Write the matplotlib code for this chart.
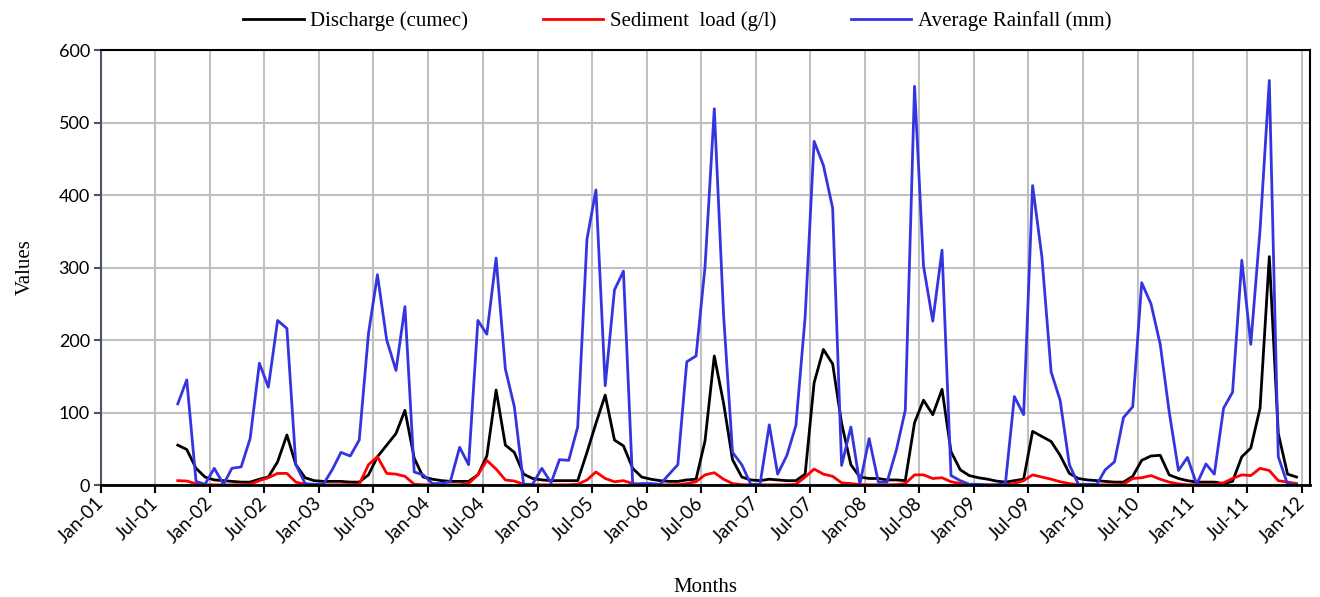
import numpy as np
import pandas as pd
import matplotlib
matplotlib.use('Agg')
import matplotlib.pyplot as plt
import matplotlib.dates as mdates

# monthly series, Sep 2001 .. Dec 2011
start = '2001-09-01'
n_months = 124

discharge = [55, 49, 23, 11,
             7, 6, 5, 4, 4, 8, 11, 32, 69, 28, 10, 6,
             5, 5, 5, 4, 4, 14, 39, 55, 71, 103, 37, 11,
             8, 6, 5, 5, 5, 14, 40, 131, 55, 45, 15, 9,
             7, 6, 6, 6, 6, 45, 85, 124, 62, 54, 23, 11,
             8, 6, 5, 5, 7, 8, 61, 178, 113, 35, 11, 7,
             6, 8, 7, 6, 6, 15, 141, 187, 167, 85, 28, 11,
             9, 9, 7, 7, 6, 86, 117, 97, 132, 46, 21, 13,
             10, 8, 5.5, 4, 6, 8, 74, 67, 60, 41, 16, 9,
             7, 6, 5, 4, 4, 12, 34, 40, 41, 14, 9, 6,
             4, 4, 4, 2, 5, 39, 51, 106, 315, 71, 15, 11]

sediment = [6, 5.5, 1.5, 0.3,
            0.2, 0.2, 0.2, 0.3, 1, 6, 10, 16, 16, 4, 1, 0.3,
            0.2, 0.2, 0.3, 0.5, 1, 28, 39, 16, 15, 12, 1, 0.3,
            0.2, 0.2, 0.2, 0.3, 2, 14, 34, 22, 7, 5.5, 1, 0.3,
            0.2, 0.2, 0.2, 0.3, 1, 7, 18, 9, 4.5, 6, 2, 0.3,
            0.2, 0.2, 0.3, 0.5, 2, 4.5, 14, 17, 8, 2, 0.5, 0.2,
            0.2, 0.2, 0.2, 0.3, 1, 11, 22, 15, 12, 3, 2, 0.5,
            0.3, 0.3, 0.3, 0.5, 2, 14, 14, 9, 10, 4.5, 2, 0.3,
            0.2, 0.2, 0.2, 0.3, 2, 6, 14, 11, 8, 4.5, 2, 0.3,
            0.2, 0.2, 0.2, 0.3, 1, 9, 10, 13, 8, 4, 1.5, 0.3,
            0.2, 0.2, 0.3, 3, 9, 14, 13, 23, 20, 6, 4, 2]

rainfall = [112, 145, 5, 1,
            23, 1, 23, 25, 64, 168, 135, 227, 216, 28, 2, 1,
            1, 22, 45, 40, 62, 209, 290, 200, 158, 246, 18, 14,
            2, 2, 5, 52, 28, 227, 208, 313, 160, 108, 1, 1,
            23, 3, 35, 34, 80, 339, 407, 137, 269, 295, 1, 2,
            2, 1, 14, 28, 170, 178, 301, 519, 235, 45, 28, 1,
            1, 83, 15, 41, 82, 232, 474, 441, 382, 27, 80, 1,
            64, 4, 4, 48, 103, 550, 302, 226, 324, 13, 6, 1,
            1, 0, 0, 2, 122, 97, 413, 315, 156, 117, 28, 1,
            1, 1, 21, 32, 93, 108, 279, 250, 194, 101, 20, 38,
            1, 29, 15, 106, 128, 310, 194, 352, 558, 39, 1, 1]

dates = pd.date_range(start, periods=n_months, freq='MS') + pd.Timedelta(days=14)

serif = ['Liberation Serif', 'DejaVu Serif']
sans = ['Lato', 'DejaVu Sans']

fig = plt.figure(figsize=(13.2, 5.97), dpi=100)
ax = fig.add_axes([0.0765, 0.1876, 0.9159, 0.7286])

ax.plot(dates, discharge, color='black', lw=2, label='Discharge (cumec)')
ax.plot(dates, sediment, color='#ff0000', lw=2, label='Sediment  load (g/l)')
ax.plot(dates, rainfall, color='#3535e0', lw=2, label='Average Rainfall (mm)')

ax.set_xlim(pd.Timestamp('2001-01-01'), pd.Timestamp('2012-01-29'))
ax.set_ylim(0, 600)
ax.set_yticks(range(0, 601, 100))

ax.xaxis.set_major_locator(mdates.MonthLocator(bymonth=[1, 7]))
ax.xaxis.set_major_formatter(mdates.DateFormatter('%b-%y'))

ax.grid(True, color='#c0c0c0', lw=1.5)
ax.set_axisbelow(True)

for s in ['top', 'right', 'bottom']:
    ax.spines[s].set_color('black')
    ax.spines[s].set_linewidth(1.5)
ax.spines['bottom'].set_linewidth(2)
ax.spines['left'].set_color('#4a5568')
ax.spines['left'].set_linewidth(1.5)

ax.tick_params(axis='x', direction='out', length=6, width=1.5, color='black', pad=5)
ax.tick_params(axis='y', direction='out', length=5, width=1.5, color='#4a5568', pad=3)

for lab in ax.get_xticklabels():
    lab.set_rotation(45)
    lab.set_ha('right')
    lab.set_va('center')
    lab.set_rotation_mode('anchor')
    lab.set_family(sans)
    lab.set_fontsize(13.5)
for lab in ax.get_yticklabels():
    lab.set_family(sans)
    lab.set_fontsize(13)

ax.set_xlabel('Months', family=serif, fontsize=15, labelpad=23)
ax.set_ylabel('Values', family=serif, fontsize=15, labelpad=17)

fig.legend(loc='center', bbox_to_anchor=(0.513, 0.965), ncol=3, frameon=False,
           prop={'family': serif, 'size': 15}, handlelength=2.9,
           handletextpad=0.3, columnspacing=3.6)

fig.savefig('out.png', dpi=100)
